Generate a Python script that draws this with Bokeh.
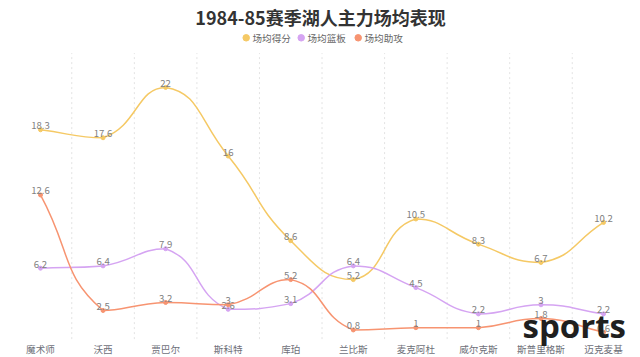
import math
from bokeh.plotting import figure
from bokeh.models import Range1d, Label, ColumnDataSource
from bokeh.core.properties import value
from bokeh.embed import file_html
from bokeh.resources import INLINE

# ---------------- data ----------------
players = ["魔术师", "沃西", "贾巴尔", "斯科特", "库珀", "兰比斯", "麦克阿杜", "威尔克斯", "斯普里格斯", "迈克麦基"]
points = [18.3, 17.6, 22, 16, 8.6, 5.2, 10.5, 8.3, 6.7, 10.2]
rebounds = [6.2, 6.4, 7.9, 2.6, 3.1, 6.4, 4.5, 2.2, 3, 2.2]
assists = [12.6, 2.5, 3.2, 3, 5.2, 0.8, 1, 1, 1.8, 0.6]
series_names = ["场均得分", "场均篮板", "场均助攻"]
series_colors = ["#f5c965", "#d5a4f2", "#f79471"]
title_text = "1984-85赛季湖人主力场均表现"
watermark = "sports"

FONT = "Noto Sans CJK SC"
W, H = 640, 357
SX, SY = 62.56, 11.44          # px per data unit
X0PX, Y0PX = 40.0, 338.6       # px of x=0 / y=0


def X(px):
    return (px - X0PX) / SX


def Y(py):
    return (Y0PX - py) / SY


p = figure(width=W, height=H, output_backend="svg", toolbar_location=None,
           x_range=Range1d(X(0), X(W)), y_range=Range1d(Y(H), Y(0)),
           min_border=0, min_border_left=0, min_border_right=0,
           min_border_top=0, min_border_bottom=0)
p.axis.visible = False
p.grid.visible = False
p.outline_line_color = None
p.background_fill_color = "white"
p.border_fill_color = "white"

xs = list(range(len(players)))

# vertical dotted separators between categories
sep_x = [i + 0.5 for i in range(len(players) - 1)]
p.segment(x0=sep_x, y0=[0] * len(sep_x), x1=sep_x, y1=[25] * len(sep_x),
          line_color="#e3e3e3", line_width=1, line_dash="2 3")


def smooth_segments(xv, yv, k=0.5):
    P = [(a * SX, b * SY) for a, b in zip(xv, yv)]
    n = len(P)
    cin, cout = [], []
    for i in range(n):
        x, y = P[i]
        prv = P[i - 1] if i > 0 else P[i]
        nxt = P[i + 1] if i < n - 1 else P[i]
        vx, vy = nxt[0] - prv[0], nxt[1] - prv[1]
        lp = math.hypot(x - prv[0], y - prv[1])
        ln = math.hypot(nxt[0] - x, nxt[1] - y)
        r = ln / (ln + lp) if (ln + lp) > 0 else 0
        ix, iy = x - vx * k * (1 - r), y - vy * k * (1 - r)
        ox, oy = x + vx * k * r, y + vy * k * r
        # constrain control points between neighbours
        ix = min(max(ix, min(prv[0], x)), max(prv[0], x))
        iy = min(max(iy, min(prv[1], y)), max(prv[1], y))
        ox = min(max(ox, min(nxt[0], x)), max(nxt[0], x))
        oy = min(max(oy, min(nxt[1], y)), max(nxt[1], y))
        cin.append((ix / SX, iy / SY))
        cout.append((ox / SX, oy / SY))
    d = dict(x0=[], y0=[], x1=[], y1=[], cx0=[], cy0=[], cx1=[], cy1=[])
    for i in range(n - 1):
        d["x0"].append(xv[i]); d["y0"].append(yv[i])
        d["x1"].append(xv[i + 1]); d["y1"].append(yv[i + 1])
        d["cx0"].append(cout[i][0]); d["cy0"].append(cout[i][1])
        d["cx1"].append(cin[i + 1][0]); d["cy1"].append(cin[i + 1][1])
    return d


for vals, col in zip([points, rebounds, assists], series_colors):
    d = smooth_segments(xs, vals)
    p.bezier(x0="x0", y0="y0", x1="x1", y1="y1", cx0="cx0", cy0="cy0",
             cx1="cx1", cy1="cy1", source=ColumnDataSource(d),
             line_color=col, line_width=1.5)
    p.scatter(xs, vals, size=4, marker="circle", fill_color=col, line_color=col)
    p.text(xs, vals, text=[("%g" % v) for v in vals], text_align="center",
           text_baseline="alphabetic", y_offset=-4, text_color="#808080",
           text_font=value(FONT), text_font_size="9.6px")

# category labels
p.text(xs, [Y(348.5)] * len(xs), text=players, text_align="center",
       text_baseline="middle", text_color="#6e7079",
       text_font=value(FONT), text_font_size="9.6px")

# title
p.add_layout(Label(x=X(320), y=Y(16.5), text=title_text, text_align="center",
                   text_baseline="middle", text_font=FONT, text_font_size="18px",
                   text_font_style="bold", text_color="#333333"))

# legend
leg_x = [245.7, 300.7, 357.7]
leg_y = 37.3
p.scatter([X(v) for v in leg_x], [Y(leg_y)] * 3, size=6.5, marker="circle",
          fill_color=series_colors, line_color=series_colors)
for lx, name in zip(leg_x, series_names):
    p.add_layout(Label(x=X(lx + 6.3), y=Y(leg_y), text=name, text_align="left",
                       text_baseline="middle", text_font=FONT,
                       text_font_size="9.6px", text_color="#666666"))

# watermark
p.add_layout(Label(x=X(522), y=Y(325), text=watermark, text_align="left",
                   text_baseline="alphabetic", text_font="Open Sans",
                   text_font_size="33px", text_font_style="bold",
                   text_color="#1f1f1f"))

open("out.html", "w").write(file_html(p, INLINE))
